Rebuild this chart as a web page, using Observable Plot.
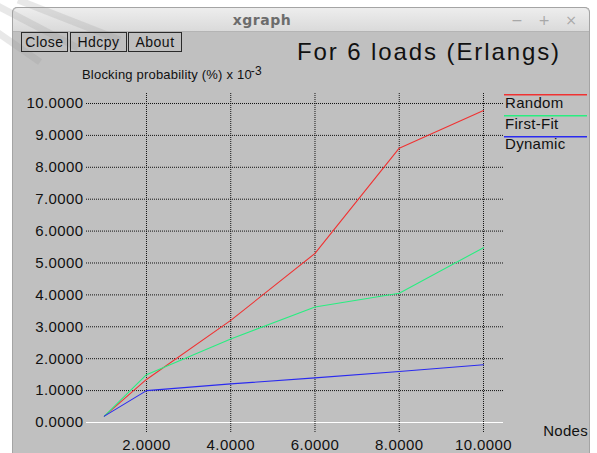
<!DOCTYPE html>
<html><head><meta charset="utf-8">
<script src="https://cdn.jsdelivr.net/npm/d3@7"></script>
<script src="https://cdn.jsdelivr.net/npm/@observablehq/plot@0.6"></script>
<style>
body{margin:0;background:#fff;}
#page{position:relative;width:597px;height:453px;overflow:hidden;background:#fff;font-family:"Liberation Sans",Arial,sans-serif;}
#win{position:absolute;left:12px;top:7px;width:576px;height:446px;border:1px solid #a4a4a4;border-bottom:none;border-radius:5px 5px 0 0;background:#c0c0c0;box-sizing:content-box;}
#bar{height:23px;background:linear-gradient(#ededed,#dadada);border-bottom:1px solid #b4b4b4;border-radius:5px 5px 0 0;}
#plot,#over{position:absolute;left:0;top:0;}
#plot svg text{letter-spacing:0.4px;}
</style></head>
<body>
<div id="page">
  <div id="win"><div id="bar"></div></div>
  <div id="plot"></div>
  <svg id="over" width="597" height="453" xmlns="http://www.w3.org/2000/svg"></svg>
</div>
<script>
// ---- data ----
const nodes = [1, 2, 4, 6, 8, 10];
const randomVals = [0.2, 1.35, 3.2, 5.3, 8.6, 9.78];
const firstFitVals = [0.2, 1.5, 2.62, 3.62, 4.05, 5.48];
const dynamicVals = [0.2, 1.0, 1.21, 1.4, 1.6, 1.81];
const seriesNames = ["Random", "First-Fit", "Dynamic"];
const seriesColors = ["#f03232", "#28ee80", "#2a2af0"];
const xTicks = [2, 4, 6, 8, 10];
const yTicks = [0, 1, 2, 3, 4, 5, 6, 7, 8, 9, 10];
const titleText = "For 6 loads (Erlangs)";
const yLabelText = "Blocking probability (%) x 10";
const yLabelExp = "-3";
const xLabelText = "Nodes";
const windowTitle = "xgraph";
const buttonLabels = ["Close", "Hdcpy", "About"];

// ---- build table ----
const seriesVals = [randomVals, firstFitVals, dynamicVals];
const table = [];
seriesNames.forEach((name, i) => {
  nodes.forEach((n, j) => table.push({series: name, nodes: n, value: seriesVals[i][j]}));
});

const xDom = [0.576, 10.475];
const yDom = [0, 10.313];
const fmt = d3.format(".4f");

const chart = Plot.plot({
  width: 597,
  height: 453,
  marginLeft: 86,
  marginRight: 94,
  marginTop: 93,
  marginBottom: 31,
  x: {domain: xDom},
  y: {domain: yDom},
  color: {domain: seriesNames, range: seriesColors},
  style: {background: "transparent", fontFamily: "'Liberation Sans', Arial, sans-serif", fontSize: "15px", color: "#111", overflow: "visible"},
  marks: [
    Plot.ruleX(xTicks, {y1: -0.313, y2: yDom[1], stroke: "#111", strokeDasharray: "1,1", strokeWidth: 1}),
    Plot.ruleY(yTicks.filter(d => d > 0), {x1: xDom[0], x2: xDom[1], stroke: "#111", strokeDasharray: "1,1", strokeWidth: 1}),
    Plot.ruleY([0], {x1: xDom[0], x2: xDom[1], stroke: "#ffffff", strokeWidth: 1}),
    Plot.axisY({ticks: yTicks, tickSize: 0, tickPadding: 3, tickFormat: fmt, label: null}),
    Plot.axisX({ticks: xTicks, tickSize: 0, tickPadding: 17, tickFormat: fmt, label: null}),
    Plot.line(table, {x: "nodes", y: "value", z: "series", stroke: "series", strokeWidth: 1.1})
  ]
});
document.getElementById("plot").appendChild(chart);

// ---- overlay: window chrome, title, labels, legend ----
const ns = "http://www.w3.org/2000/svg";
const over = document.getElementById("over");
function el(tag, attrs, text) {
  const e = document.createElementNS(ns, tag);
  for (const k in attrs) e.setAttribute(k, attrs[k]);
  if (text != null) e.textContent = text;
  over.appendChild(e);
  return e;
}
// watermark strokes
[[-10, 2, 78, 48], [-6, 30, 40, 62], [18, 0, 120, 40]].forEach(([x1, y1, x2, y2]) =>
  el("line", {x1, y1, x2, y2, stroke: "rgba(150,150,150,0.22)", "stroke-width": 7}));

// window title
el("text", {x: 262, y: 25, "text-anchor": "middle", "font-family": "'DejaVu Sans', sans-serif", "font-weight": "bold", "font-size": 14, fill: "#6c6c6c", "letter-spacing": 0.5}, windowTitle);
[["\u2212", 517], ["+", 544], ["\u00d7", 571]].forEach(([t, x]) =>
  el("text", {x, y: 25, "text-anchor": "middle", "font-family": "'DejaVu Sans', sans-serif", "font-size": 14, fill: "#a8a8a8"}, t));

// buttons
const btnX = [[21.5, 46], [70.5, 56], [128.5, 53]];
buttonLabels.forEach((b, i) => {
  const [x, w] = btnX[i];
  el("rect", {x, y: 32.5, width: w, height: 19, fill: "none", stroke: "#2a2a2a", "stroke-width": 1});
  el("text", {x: x + w / 2, y: 47, "text-anchor": "middle", "font-size": 14, fill: "#111", "letter-spacing": 0.5}, b);
});

// title
el("text", {x: 297, y: 60, "font-size": 24, fill: "#111", "letter-spacing": 1.9}, titleText);

// y label
const yl = el("text", {x: 82, y: 79, "font-size": 13, fill: "#111", "letter-spacing": 0.2});
const t1 = document.createElementNS(ns, "tspan"); t1.textContent = yLabelText; yl.appendChild(t1);
const t2 = document.createElementNS(ns, "tspan"); t2.setAttribute("dy", -4); t2.setAttribute("dx", -1); t2.setAttribute("font-size", 12); t2.textContent = yLabelExp; yl.appendChild(t2);

// x label
el("text", {x: 588, y: 436, "text-anchor": "end", "font-size": 15, fill: "#111", "letter-spacing": 0.3}, xLabelText);

// legend
seriesNames.forEach((name, i) => {
  const y = 94.7 + 21 * i;
  el("line", {x1: 504, x2: 587, y1: y, y2: y, stroke: seriesColors[i], "stroke-width": 1.5});
  el("text", {x: 505, y: 108 + 20.5 * i, "font-size": 15, fill: "#111", "letter-spacing": 0.3}, name);
});
</script>
</body></html>
